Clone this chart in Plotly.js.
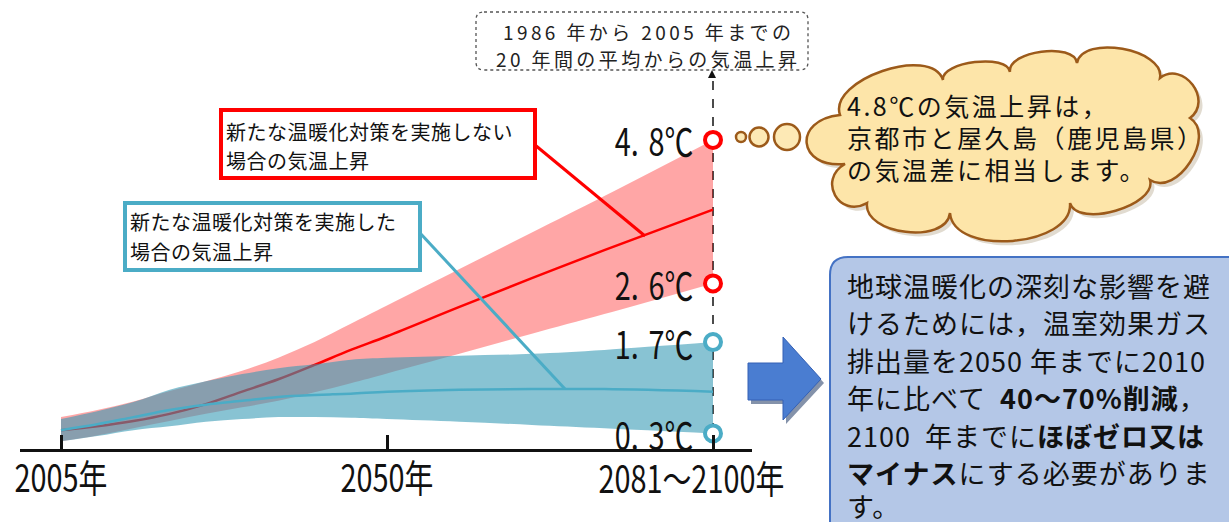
<!DOCTYPE html>
<html><head><meta charset="utf-8">
<script src="https://cdn.plot.ly/plotly-3.0.1.min.js"></script>
<style>html,body{margin:0;padding:0;background:#fff}#chart{width:1229px;height:522px}</style>
</head><body><div id="chart"></div>
<script>
// ---------- data (°C rise vs. 1986-2005 mean) ----------
const years = [2005,2010,2015,2020,2025,2030,2035,2040,2045,2050,2060,2070,2080,2095];
const noPolicyHigh = [0.55,0.66,0.79,0.95,1.10,1.26,1.46,1.70,1.98,2.26,2.82,3.38,3.94,4.8];
const noPolicyLow  = [0.18,0.27,0.38,0.49,0.60,0.70,0.80,0.93,1.07,1.22,1.52,1.83,2.13,2.6];
const noPolicyMean = [0.35,0.41,0.49,0.60,0.75,0.94,1.13,1.35,1.58,1.79,2.24,2.68,3.11,3.73];
const policyHigh   = [0.52,0.64,0.78,0.97,1.10,1.21,1.30,1.36,1.43,1.46,1.49,1.52,1.58,1.7];
const policyLow    = [0.18,0.26,0.35,0.41,0.48,0.52,0.55,0.55,0.54,0.52,0.48,0.43,0.38,0.3];
const policyMean   = [0.35,0.44,0.55,0.66,0.74,0.80,0.86,0.89,0.91,0.94,0.97,0.98,0.98,0.94];
const endYear = 2095;
const endNoPolicy = [4.8, 2.6];
const endPolicy = [1.7, 0.3];
const endLabelsNoPolicy = ['4.\u20048℃','2.\u20046℃'];
const endLabelsPolicy = ['1.\u20047℃','0.\u20043℃'];
const tickYears = [2005, 2050, 2095];
const tickLabels = ['2005年', '2050年', '2081～2100年'];

// ---------- helpers ----------
const W = 1229, H = 522;
const X = px => px / W;
const Y = py => 1 - py / H;
const RED = '#FF0000', TEAL = '#4BACC6';
const JP = '"Noto Sans CJK JP","Noto Sans",sans-serif';
const SQUEEZE = 0.76;   // horizontal compression of the tall condensed labels

function poly(pts){ return 'M' + pts.map(p => X(p[0]) + ',' + Y(p[1])).join(' L') + ' Z'; }
function roundRect(x0,y0,x1,y1,r){
  const P=(x,y)=>X(x)+','+Y(y);
  return 'M'+P(x0+r,y0)+' L'+P(x1-r,y0)+' Q'+P(x1,y0)+' '+P(x1,y0+r)+
    ' L'+P(x1,y1-r)+' Q'+P(x1,y1)+' '+P(x1-r,y1)+' L'+P(x0+r,y1)+' Q'+P(x0,y1)+' '+P(x0,y1-r)+
    ' L'+P(x0,y0+r)+' Q'+P(x0,y0)+' '+P(x0+r,y0)+' Z';
}
function cloud(pts,dx0,dy0){
  const P=(x,y)=>X(x+dx0)+','+Y(y+dy0);
  let s='M'+P(pts[0][0],pts[0][1]);
  for(let i=0;i<pts.length;i++){
    const a=pts[i], b=pts[(i+1)%pts.length];
    const dx=b[0]-a[0], dy=b[1]-a[1], L=Math.hypot(dx,dy);
    const h=a[2]/0.75, nx=dy/L*h, ny=-dx/L*h;
    s+=' C'+P(a[0]+nx,a[1]+ny)+' '+P(b[0]+nx,b[1]+ny)+' '+P(b[0],b[1]);
  }
  return s+' Z';
}
function circ(cx,cy,r,fill,line){
  return {type:'circle',xref:'paper',yref:'paper',x0:X(cx-r),x1:X(cx+r),y0:Y(cy+r),y1:Y(cy-r),
    fillcolor:fill,line:{color:line,width:2.5}};
}
const cloudPts = [[840,115,28],[943,80,14],[1010,72,16],[1077,63,22],[1160,78,22],[1190,118,24],
  [1150,180,20],[1070,203,33],[950,213,24],[867,203,24],[845,164,36]];

// ---------- traces ----------
const base = {x: years, type:'scatter', mode:'lines', hoverinfo:'skip', showlegend:false};
const traces = [
  Object.assign({}, base, {y: noPolicyLow,  line:{width:0, shape:'spline'}}),
  Object.assign({}, base, {y: noPolicyHigh, line:{width:0, shape:'spline'}, fill:'tonexty', fillcolor:'rgba(255,0,0,0.35)'}),
  Object.assign({}, base, {y: noPolicyMean, line:{width:2.5, color:RED, shape:'spline'}}),
  Object.assign({}, base, {y: policyLow,    line:{width:0, shape:'spline'}}),
  Object.assign({}, base, {y: policyHigh,   line:{width:0, shape:'spline'}, fill:'tonexty', fillcolor:'rgba(53,153,180,0.59)'}),
  Object.assign({}, base, {y: policyMean,   line:{width:2.5, color:TEAL, shape:'spline'}}),
  {x:[endYear,endYear], y:endNoPolicy, type:'scatter', mode:'markers', hoverinfo:'skip', showlegend:false, cliponaxis:false,
   marker:{symbol:'circle', size:16, color:'#fff', line:{color:RED, width:4}}},
  {x:[endYear,endYear], y:endPolicy, type:'scatter', mode:'markers', hoverinfo:'skip', showlegend:false, cliponaxis:false,
   marker:{symbol:'circle', size:16, color:'#fff', line:{color:TEAL, width:4}}}
];

// ---------- shapes ----------
const shapes = [
  {type:'line', xref:'x', yref:'paper', x0:endYear, x1:endYear, y0:Y(450), y1:Y(76), line:{color:'#111', width:1.5, dash:'dash'}, layer:'below'},
  {type:'path', xref:'paper', yref:'paper', path:poly([[708,78],[716,78],[712,70]]), fillcolor:'#111', line:{width:0}},
  {type:'path', xref:'paper', yref:'paper', path:roundRect(476,12,808,70,8), fillcolor:'rgba(255,255,255,0)', line:{color:'#555', width:1.3, dash:'dot'}},
  {type:'rect', xref:'paper', yref:'paper', x0:X(221), x1:X(535), y0:Y(178), y1:Y(110), fillcolor:'#fff', line:{color:RED, width:4}},
  {type:'line', xref:'paper', yref:'paper', x0:X(535), y0:Y(145), x1:X(645), y1:Y(236), line:{color:RED, width:3}},
  {type:'rect', xref:'paper', yref:'paper', x0:X(125), x1:X(420), y0:Y(270), y1:Y(203), fillcolor:'#fff', line:{color:TEAL, width:4}},
  {type:'line', xref:'paper', yref:'paper', x0:X(420), y0:Y(233), x1:X(565), y1:Y(389), line:{color:TEAL, width:3}},
  circ(741,137,5,'#FDE9B5','#9C5A1A'),
  circ(759,137,9.5,'#FDE9B5','#9C5A1A'),
  circ(787,137,13,'#FDE9B5','#9C5A1A'),
  {type:'path', xref:'paper', yref:'paper', path:cloud(cloudPts,4,4), fillcolor:'rgba(120,90,40,0.22)', line:{width:0}},
  {type:'path', xref:'paper', yref:'paper', path:cloud(cloudPts,0,0), fillcolor:'#FDE5A9', line:{color:'#9C5A1A', width:2.5}},
  {type:'path', xref:'paper', yref:'paper', path:poly([[751,367],[786,367],[786,341],[824,383],[786,424],[786,404],[751,404]]), fillcolor:'rgba(31,56,100,0.55)', line:{width:0}},
  {type:'path', xref:'paper', yref:'paper', path:poly([[748,363],[783,363],[783,337],[821,379],[783,420],[783,400],[748,400]]), fillcolor:'#4A7DD1', line:{color:'#3561B5', width:1}},
  {type:'path', xref:'paper', yref:'paper', path:roundRect(830,257,1245,540,18), fillcolor:'#B4C7E7', line:{color:'#4472C4', width:2}}
];

// ---------- annotations ----------
const ann = [];
const squeezeIdx = {};
function txt(px,py,text,size,opts){
  ann.push(Object.assign({xref:'paper', yref:'paper', x:X(px), y:Y(py), text:text, showarrow:false, borderpad:0,
    xanchor:'left', yanchor:'middle', font:{family:JP, size:size, color:'#111'}}, opts||{}));
}
txt(648,31,'<span style="letter-spacing:3.4px">1986 年から 2005 年までの</span>',19,{xanchor:'center', font:{family:JP,size:19,color:'#222'}});
txt(648,58,'<span style="letter-spacing:3.4px">20 年間の平均からの気温上昇</span>',19,{xanchor:'center', font:{family:JP,size:19,color:'#222'}});
txt(225,131,'<span style="letter-spacing:0.5px">新たな温暖化対策を実施しない</span>',20);
txt(225,161,'<span style="letter-spacing:0.5px">場合の気温上昇</span>',20);
txt(129,221,'<span style="letter-spacing:0.5px">新たな温暖化対策を実施した</span>',20);
txt(129,251,'<span style="letter-spacing:0.5px">場合の気温上昇</span>',20);
txt(846,105,'<span style="letter-spacing:2.5px">4.8℃の気温上昇は，</span>',25);
txt(846,137,'<span style="letter-spacing:2.5px">京都市と屋久島（鹿児島県）</span>',25);
txt(846,169,'<span style="letter-spacing:2.5px">の気温差に相当します。</span>',25);
const msg = ['地球温暖化の深刻な影響を避','けるためには，温室効果ガス','排出量を2050 年までに2010',
  '年に比べて  <b>40～70%削減</b>，','2100  年までに<b>ほぼゼロ又は</b>','<b>マイナス</b>にする必要がありま','す。'];
const msgY = [285,322,360,397,435,472,505];
msg.forEach((m,i)=>txt(846,msgY[i],'<span style="letter-spacing:1px">'+m+'</span>',27));
function endLabel(v,label){
  squeezeIdx[ann.length]='right';
  ann.push({xref:'x', yref:'y', x:endYear, y:v, xanchor:'right', yanchor:'middle', xshift:-19, showarrow:false, borderpad:0,
    text:label, font:{family:JP, size:38, color:'#111'}});
}
endNoPolicy.forEach((v,i)=>endLabel(v,endLabelsNoPolicy[i]));
endPolicy.forEach((v,i)=>endLabel(v,endLabelsPolicy[i]));
squeezeIdx[ann.length]='center';
ann.push({xref:'x', yref:'paper', x:tickYears[2], y:Y(476), xanchor:'center', yanchor:'middle', xshift:-22, showarrow:false, borderpad:0,
  text:tickLabels[2], font:{family:JP, size:38, color:'#111'}});

// ---------- layout ----------
const pxPerYear = (713-61)/(2095-2005);
const pxPerDeg = 65.23;
const layout = {
  width:W, height:H, margin:{l:0,r:0,t:0,b:0}, paper_bgcolor:'#fff', plot_bgcolor:'rgba(0,0,0,0)',
  showlegend:false,
  xaxis:{domain:[X(20),X(752)], range:[2005-(61-20)/pxPerYear, 2005+(752-61)/pxPerYear],
    anchor:'free', position:Y(450), showline:true, linecolor:'#111', linewidth:3,
    ticks:'inside', ticklen:14, tickwidth:3, tickcolor:'#111', ticklabeloverflow:'allow',
    tickvals:tickYears, ticktext:[tickLabels[0], tickLabels[1], ''],
    tickfont:{family:JP, size:38, color:'#111'}, showgrid:false, zeroline:false, fixedrange:true},
  yaxis:{domain:[0,1], range:[-(H-453)/pxPerDeg, 453/pxPerDeg], visible:false, fixedrange:true},
  shapes:shapes, annotations:ann
};

function squeeze(t, anchor, dy){
  const b=t.getBBox();
  const cx = anchor==='right' ? b.x+b.width : (anchor==='left' ? b.x : b.x+b.width/2);
  const prev = t.getAttribute('transform') || '';
  t.setAttribute('transform', prev+' translate('+cx+','+(dy||0)+') scale('+SQUEEZE+',1) translate('+(-cx)+',0)');
}
Plotly.newPlot('chart', traces, layout, {displayModeBar:false, staticPlot:true}).then(gd=>{
  gd.querySelectorAll('.xtick text').forEach(t=>squeeze(t,'middle',-6));
  gd.querySelectorAll('.annotation').forEach(g=>{
    const i=g.getAttribute('data-index');
    if(squeezeIdx[i]){ const t=g.querySelector('text.annotation-text'); if(t) squeeze(t,squeezeIdx[i],0); }
  });
});
</script></body></html>
